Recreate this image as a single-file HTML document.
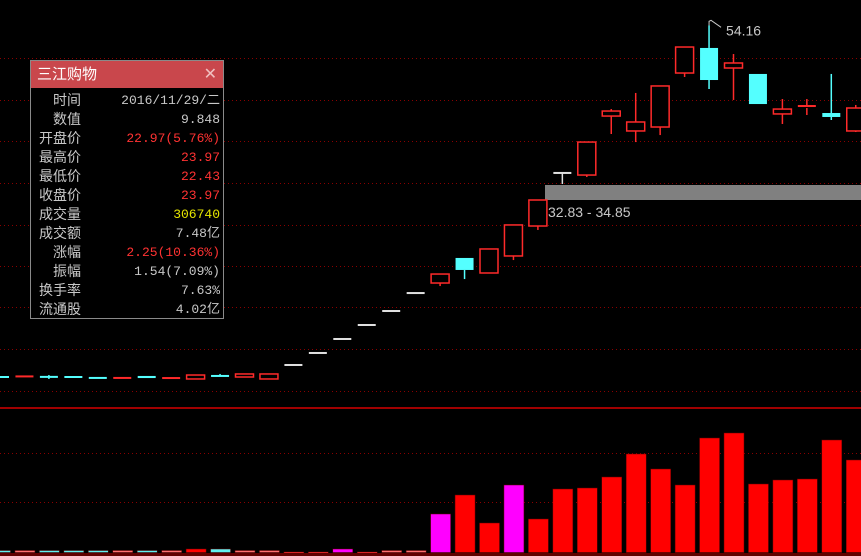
<!DOCTYPE html>
<html><head><meta charset="utf-8">
<style>
html,body{margin:0;padding:0;background:#000;width:861px;height:556px;overflow:hidden;}
svg{display:block;}
#panel{position:absolute;left:30px;top:60px;width:192px;height:257px;border:1px solid #8a8a8a;background:#000;font-family:"Liberation Mono","Noto Sans CJK SC",monospace;font-size:13px;}
#panel .title{height:27px;background:#c9474c;color:#fff;font-family:"Liberation Sans","Noto Sans CJK SC",sans-serif;font-size:15px;line-height:27px;padding-left:6px;position:relative;}
#panel .close{position:absolute;right:6px;top:0;color:#f0c0c0;font-size:16px;}
.row{height:19px;line-height:19px;position:relative;}
.row .l{position:absolute;right:142px;color:#c8c8c8;font-family:"Liberation Sans","Noto Sans CJK SC",sans-serif;font-size:14px;}
.row .v{position:absolute;right:3px;color:#c8c8c8;}
.red{color:#ff3232!important}.yel{color:#e6e600!important}
</style></head><body>
<svg id="chart" width="861" height="556"></svg>
<div id="panel">
 <div class="title">三江购物<span class="close">✕</span></div>
 <div style="height:3px"></div>
 <div class="row"><span class="l">时间</span><span class="v">2016/11/29/二</span></div>
 <div class="row"><span class="l">数值</span><span class="v">9.848</span></div>
 <div class="row"><span class="l">开盘价</span><span class="v red">22.97(5.76%)</span></div>
 <div class="row"><span class="l">最高价</span><span class="v red">23.97</span></div>
 <div class="row"><span class="l">最低价</span><span class="v red">22.43</span></div>
 <div class="row"><span class="l">收盘价</span><span class="v red">23.97</span></div>
 <div class="row"><span class="l">成交量</span><span class="v yel">306740</span></div>
 <div class="row"><span class="l">成交额</span><span class="v">7.48亿</span></div>
 <div class="row"><span class="l">涨幅</span><span class="v red">2.25(10.36%)</span></div>
 <div class="row"><span class="l">振幅</span><span class="v">1.54(7.09%)</span></div>
 <div class="row"><span class="l">换手率</span><span class="v">7.63%</span></div>
 <div class="row"><span class="l">流通股</span><span class="v">4.02亿</span></div>
</div>
<script>
const opens =[24.0,23.95,24.01,24.0,23.92,23.91,24.09,23.74,23.83,24.09,24.0,23.83,25.03,26.06,27.26,28.46,29.66,31.20,32.06,34.21,32.92,34.38,36.95,41.50,41.32,46.38,45.10,45.44,50.07,52.22,50.50,49.99,46.56,47.07,46.64,45.10];
const highs =[24.05,24.05,24.17,24.0,23.92,23.92,24.09,23.91,24.17,24.26,24.26,24.26,25.03,26.06,27.26,28.46,29.66,31.20,32.83,34.21,34.98,37.04,39.18,41.50,44.15,46.98,48.36,48.96,52.30,54.16,51.70,49.99,47.84,47.84,49.99,47.33];
const lows  =[23.95,23.95,23.83,23.99,23.91,23.91,23.91,23.74,23.83,24.08,24.0,23.83,25.03,26.06,27.26,28.46,29.66,31.20,31.80,32.40,32.92,34.03,36.61,40.55,41.15,44.84,44.15,44.75,49.73,48.70,47.76,47.41,45.70,46.47,46.04,45.01];
const closes=[23.95,24.05,24.0,23.99,23.91,23.92,23.91,23.91,24.17,24.08,24.26,24.26,25.03,26.06,27.26,28.46,29.66,31.20,32.83,33.18,34.98,37.04,39.18,41.50,44.15,46.81,45.87,48.96,52.30,49.47,50.93,47.41,46.98,47.24,46.30,47.07];
const volumes=[1.5,1.5,1.5,1.5,1.5,1.5,1.5,1.5,3,3,1.5,1.5,-1,-1,3,-1,1.5,1.5,38,57,29,67,33,63,64,75,98,83,67,114,119,68,72,73,112,92];
const volColors=["#60f0f0","#ff7070","#60f0f0","#60f0f0","#60f0f0","#ff7070","#60f0f0","#ff7070","#ff0000","#60f0f0","#ff7070","#ff7070","#ff3030","#ff3030","#ff00ff","#ff3030","#ff7070","#ff7070","#ff00ff","#ff0000","#ff0000","#ff00ff","#ff0000","#ff0000","#ff0000","#ff0000","#ff0000","#ff0000","#ff0000","#ff0000","#ff0000","#ff0000","#ff0000","#ff0000","#ff0000","#ff0000"];
const priceGrid=[58,100,141,183,225,266,307,349,391];
const NS="http://www.w3.org/2000/svg";
const svg=document.getElementById('chart');
function xAt(i){return -0.5+24.45*i;}
function yP(p){return 377-(p-24)*11.66;}
function yV(v){return 552-v*1.0;}
function mk(t,a,p){const e=document.createElementNS(NS,t);for(const k in a)e.setAttribute(k,a[k]);(p||svg).appendChild(e);return e;}
// grid
priceGrid.forEach(y=>{const l=mk('line',{x1:0,x2:861,y1:y+0.5,y2:y+0.5,stroke:'#8a0000','stroke-dasharray':'1,3'});

});
[453,502].forEach(y=>{const l=mk('line',{x1:0,x2:861,y1:y+0.5,y2:y+0.5,stroke:'#8a0000','stroke-dasharray':'1,3'});

});
const sep=mk('rect',{x:0,y:407,width:861,height:2,fill:'#a00000'});


// band
const band=mk('rect',{x:545,y:185,width:316,height:15,fill:'#808080'});


const bt=mk('text',{x:548,y:217,fill:'#c8c8c8','font-family':'Liberation Sans, sans-serif','font-size':'14'});
bt.textContent='32.83 - 34.85';


// candles
let hiIdx=0;highs.forEach((h,i)=>{if(h>highs[hiIdx])hiIdx=i;});
opens.forEach((o,i)=>{
 const c=closes[i],h=highs[i],l=lows[i],cx=xAt(i);
 const g=mk('g',{});
 
 
 let col;
 if(Math.abs(o-c)<0.001) col='#e0e0e0'; else if(c>o) col='#ff2a2a'; else col='#54ffff';
 const top=yP(Math.max(o,c)),bot=yP(Math.min(o,c));
 mk('line',{x1:cx+0.5,x2:cx+0.5,y1:yP(h),y2:top,stroke:col,'stroke-width':1.5},g);
 mk('line',{x1:cx+0.5,x2:cx+0.5,y1:bot,y2:yP(l),stroke:col,'stroke-width':1.5},g);
 const hgt=Math.max(bot-top,1);
 if(col==='#ff2a2a'&&hgt>2) mk('rect',{x:cx-8.5,y:top,width:18,height:hgt,fill:'#000',stroke:col,'stroke-width':1.5},g);
 else mk('rect',{x:cx-8.5,y:top-(hgt<2?1:0),width:18,height:hgt<2?2:hgt,fill:col},g);
});
// max label
const hx=xAt(hiIdx)+0.5,hy=yP(highs[hiIdx]);
const ml=mk('polyline',{points:`${hx},${hy} ${hx},${hy-4} ${hx+2},${hy-5} ${hx+12},${hy+2}`,fill:'none',stroke:'#c8c8c8'});


const mt=mk('text',{x:hx+17,y:hy+10,fill:'#c8c8c8','font-family':'Liberation Sans, sans-serif','font-size':'14'});
mt.textContent=highs[hiIdx].toFixed(2);


// volume
volumes.forEach((v,i)=>{
 const cx=xAt(i);
 const y0=v>=0?yV(v):552, hh=Math.abs(v)*1.0+0.5;
 const r=mk('rect',{x:cx-9,y:y0,width:20,height:hh,fill:volColors[i],stroke:'#600000','stroke-width':0.5});
 
 
});
const base=mk('rect',{x:0,y:553,width:861,height:3,fill:'#600000'});


</script>
</body></html>
